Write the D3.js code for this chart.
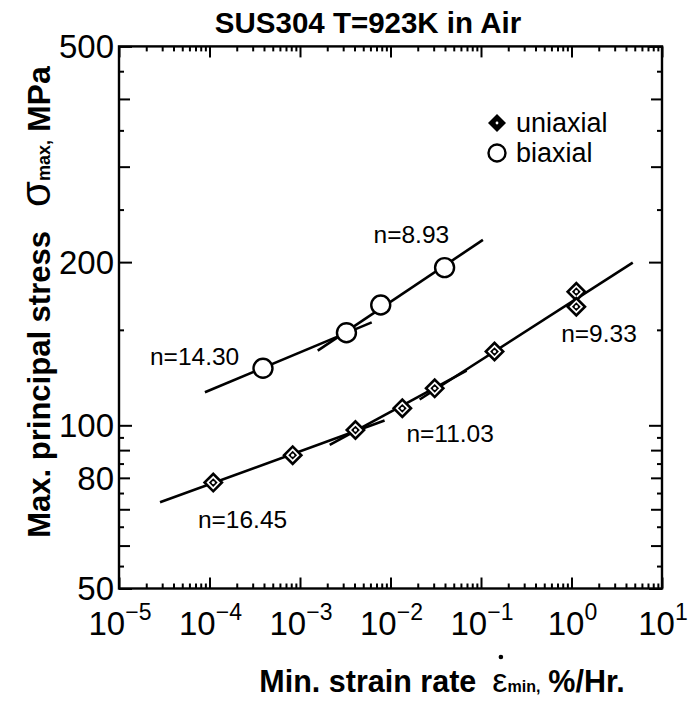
<!DOCTYPE html>
<html><head><meta charset="utf-8">
<script src="https://cdn.jsdelivr.net/npm/d3@7"></script>
<style>
body{margin:0;background:#fff}
svg{display:block}
text{font-family:"Liberation Sans",Arial,Helvetica,sans-serif;fill:#000}
</style>
</head><body>
<svg id="c" width="690" height="702"></svg>
<script>
// ---- data ----
const uniRate   = [1.1e-4, 8.3e-4, 4.1e-3, 0.0135, 0.0308, 0.141, 1.13, 1.13];
const uniStress = [78.4, 88.1, 98.0, 107.5, 117.0, 136.8, 176.4, 165.5];
const biRate    = [3.9e-4, 3.26e-3, 7.8e-3, 0.0396];
const biStress  = [127.4, 148.2, 166.7, 195.4];

// fitted power-law segments: stress = S0 * (rate/R0)^(1/n), drawn from rFrom to rTo
const fitN     = [16.45, 11.03, 9.33, 14.30, 8.93];
const fitR0    = [2.84e-5, 2.13e-3, 4.75, 8.9e-5, 0.105];
const fitS0    = [72.1, 92.0, 199.5, 115.1, 219.8];
const fitFrom  = [2.84e-5, 2.13e-3, 0.021, 8.9e-5, 1.57e-3];
const fitTo    = [8.6e-3, 0.0693, 4.75, 6.2e-3, 0.105];
const fitLabel = ["n=16.45", "n=11.03", "n=9.33", "n=14.30", "n=8.93"];
const fitLabelRate   = [7.45e-5, 0.015, 0.769, 2.2e-5, 6.5e-3];
const fitLabelStress = [64.6, 93.3, 142.5, 129.2, 216.9];

const xMajor = [1e-5, 1e-4, 1e-3, 1e-2, 1e-1, 1, 10];
const xExp   = ["−5", "−4", "−3", "−2", "−1", "0", "1"];
const yLabelTicks = [50, 80, 100, 200, 500];
const yMajorTicks = [50, 100, 200, 500];
const yLongMinor  = [60, 70, 80, 90, 300, 400];
const yShortMinor = [55, 65, 75, 85, 95, 150, 250, 350, 450];

const title = "SUS304 T=923K in Air";
const legendNames = ["uniaxial", "biaxial"];

// ---- chart ----
const svg = d3.select("#c");
const x = d3.scaleLog().domain([1e-5, 10]).range([119, 662]);
const y = d3.scaleLog().domain([50, 500]).range([588.5, 46.4]);
const [X0, X1] = x.range(), [Y0, Y1] = y.range();

const xMinor = [];
for (let e = -5; e < 1; e++) for (let m = 2; m <= 9; m++) xMinor.push(m * Math.pow(10, e));

function styleAxis(g) {
  g.select(".domain").remove();
  g.selectAll(".tick line").attr("stroke", "#000").attr("stroke-width", 2);
  g.selectAll(".tick text").remove();
}
svg.append("g").attr("transform", `translate(0,${Y0})`)
  .call(d3.axisBottom(x).tickValues(xMajor).tickSize(-11)).call(styleAxis);
svg.append("g").attr("transform", `translate(0,${Y0})`)
  .call(d3.axisBottom(x).tickValues(xMinor).tickSize(-5)).call(styleAxis);
svg.append("g").attr("transform", `translate(0,${Y1})`)
  .call(d3.axisTop(x).tickValues(xMajor).tickSize(-11)).call(styleAxis);
svg.append("g").attr("transform", `translate(0,${Y1})`)
  .call(d3.axisTop(x).tickValues(xMinor).tickSize(-5)).call(styleAxis);
[[d3.axisLeft, X0], [d3.axisRight, X1]].forEach(([ax, px]) => {
  svg.append("g").attr("transform", `translate(${px},0)`)
    .call(ax(y).tickValues(yMajorTicks).tickSize(-13)).call(styleAxis);
  svg.append("g").attr("transform", `translate(${px},0)`)
    .call(ax(y).tickValues(yLongMinor).tickSize(-11)).call(styleAxis);
  svg.append("g").attr("transform", `translate(${px},0)`)
    .call(ax(y).tickValues(yShortMinor).tickSize(-5)).call(styleAxis);
});
svg.append("rect").attr("x", X0).attr("y", Y1).attr("width", X1 - X0).attr("height", Y0 - Y1)
  .attr("fill", "none").attr("stroke", "#000").attr("stroke-width", 2.4);

// y tick labels
svg.append("g").selectAll("text").data(yLabelTicks).join("text")
  .attr("x", 114).attr("y", d => y(d)).attr("dy", "0.36em")
  .attr("text-anchor", "end").attr("font-size", 33).text(d => d);

// x tick labels
const xl = svg.append("g").selectAll("text").data(xMajor).join("text")
  .attr("x", d => x(d) + 1).attr("y", 635).attr("text-anchor", "middle").attr("font-size", 33);
xl.append("tspan").text("10");
xl.append("tspan").attr("font-size", 23).attr("dy", -15).text((d, i) => xExp[i]);

// title
svg.append("text").attr("x", 368).attr("y", 33).attr("text-anchor", "middle")
  .attr("font-size", 29.5).attr("font-weight", "bold").text(title);

// x axis label
const xt = svg.append("text").attr("x", 442).attr("y", 692).attr("text-anchor", "middle")
  .attr("font-weight", "bold").attr("font-size", 30.5);
xt.append("tspan").text("Min. strain rate");
xt.append("tspan").attr("dx", 16).attr("font-size", 34).attr("font-weight", "normal").text("ε");
xt.append("tspan").attr("font-size", 16).text("min,");
xt.append("tspan").attr("dx", 8).text("%/Hr.");
const epsTs = xt.selectAll("tspan").nodes()[1];
let epsBox = null;
try { epsBox = epsTs.getBBox(); } catch (e) {}
const epsCx = epsBox && epsBox.width > 0 ? epsBox.x + epsBox.width / 2 : 499;
// the dot of the time-derivative epsilon
svg.append("circle").attr("cx", epsCx + 1).attr("cy", 657).attr("r", 2.3).attr("fill", "#000");

// y axis label
const yt = svg.append("text").attr("transform", "translate(50,302) rotate(-90)")
  .attr("text-anchor", "middle").attr("font-weight", "bold").attr("font-size", 31);
yt.append("tspan").text("Max. principal stress");
yt.append("tspan").attr("dx", 24).attr("font-size", 42).attr("font-weight", "normal").text("σ");
yt.append("tspan").attr("font-size", 18).text("max,");
yt.append("tspan").attr("dx", 8).attr("font-size", 32).text("MPa");

// fitted lines
const fits = fitN.map((n, i) => ({
  n, from: fitFrom[i], to: fitTo[i],
  s: r => fitS0[i] * Math.pow(r / fitR0[i], 1 / n)
}));
const line = d3.line().x(d => x(d[0])).y(d => y(d[1]));
svg.append("g").selectAll("path").data(fits).join("path")
  .attr("d", f => line([[f.from, f.s(f.from)], [f.to, f.s(f.to)]]))
  .attr("fill", "none").attr("stroke", "#000").attr("stroke-width", 2.6);

// fit labels
svg.append("g").selectAll("text").data(fitLabel).join("text")
  .attr("x", (d, i) => x(fitLabelRate[i])).attr("y", (d, i) => y(fitLabelStress[i]))
  .attr("font-size", 24.5).text(d => d);

// markers
const sq = s => d3.symbol(d3.symbolSquare, s * s)();
const uni = uniRate.map((r, i) => [r, uniStress[i]]);
const ug = svg.append("g").selectAll("g").data(uni).join("g")
  .attr("transform", d => `translate(${x(d[0])},${y(d[1])})`);
ug.append("path").attr("d", sq(10.5 * Math.SQRT2)).attr("transform", "rotate(45)").attr("fill", "#000");
ug.append("path").attr("d", sq(6.8 * Math.SQRT2)).attr("transform", "rotate(45)").attr("fill", "#fff");
ug.append("path").attr("d", sq(4.4 * Math.SQRT2)).attr("transform", "rotate(45)").attr("fill", "#000");
ug.append("circle").attr("r", 1.6).attr("fill", "#fff");

const bi = biRate.map((r, i) => [r, biStress[i]]);
svg.append("g").selectAll("circle").data(bi).join("circle")
  .attr("cx", d => x(d[0])).attr("cy", d => y(d[1])).attr("r", 9.5)
  .attr("fill", "#fff").attr("stroke", "#000").attr("stroke-width", 2.4);

// legend
const lg = svg.append("g").attr("transform", "translate(497,0)");
lg.append("path").attr("d", sq(9 * Math.SQRT2)).attr("transform", "translate(0,123) rotate(45)").attr("fill", "#000");
lg.append("circle").attr("cx", 0).attr("cy", 123).attr("r", 1.4).attr("fill", "#fff");
lg.append("circle").attr("cx", 0).attr("cy", 153).attr("r", 8.5).attr("fill", "#fff")
  .attr("stroke", "#000").attr("stroke-width", 2.4);
lg.selectAll("text.l").data(legendNames).join("text").attr("class", "l")
  .attr("x", 19).attr("y", (d, i) => 132 + i * 30).attr("font-size", 27).text(d => d);
</script>
</body></html>
